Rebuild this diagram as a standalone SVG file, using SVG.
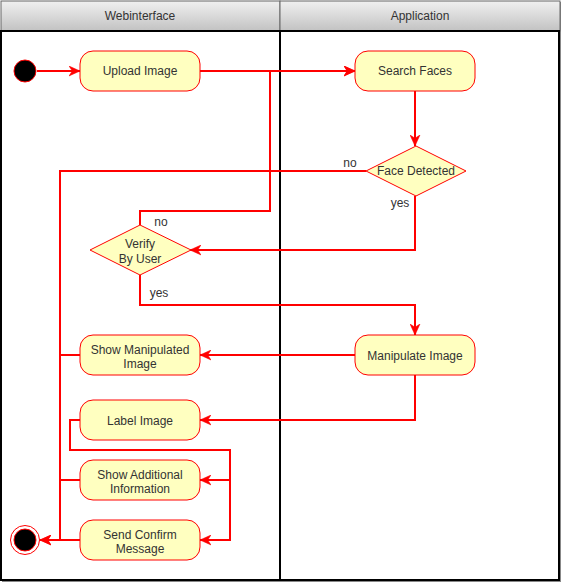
<svg xmlns="http://www.w3.org/2000/svg" width="562" height="583" viewBox="0 0 562 583">
<style>
text{font-family:"Liberation Sans",Arial,sans-serif;font-size:12px;fill:#333;}
.c{text-anchor:middle;}
.node{fill:#FFFFC0;stroke:#FF0000;stroke-width:1;}
.e{fill:none;stroke:#FF0000;stroke-width:2;}
.hdr{fill:url(#hg);stroke:#666;stroke-width:1;}
.lane{fill:#fff;stroke:#000;stroke-width:2;}
</style>
<defs>
<linearGradient id="hg" x1="0" y1="0" x2="0" y2="1">
<stop offset="0" stop-color="#F0F0F0"/>
<stop offset="1" stop-color="#C2C2C2"/>
</linearGradient>
<marker id="arr" markerUnits="userSpaceOnUse" viewBox="0 0 10 10" markerWidth="11" markerHeight="11" refX="10" refY="5" orient="auto">
<path d="M0,0.5 L10,5 L0,9.5 L3,5 Z" fill="#FF0000" stroke="#FF0000" stroke-width="0.5"/>
</marker>
</defs>
<g id="pool">
<rect x="2" y="2" width="559" height="580" fill="#888"/>
<rect class="hdr" x="1" y="1" width="279" height="30"/>
<rect class="hdr" x="280" y="1" width="280" height="30"/>
<rect class="lane" x="1" y="31" width="279" height="549"/>
<rect class="lane" x="280" y="31" width="279" height="549"/>
<text class="c" x="140" y="20">Webinterface</text>
<text class="c" x="420" y="20">Application</text>
</g>
<g id="connectors">
<path class="e" d="M37,71 L80,71" marker-end="url(#arr)"/>
<path class="e" d="M200,71 L355,71" marker-end="url(#arr)"/>
<path class="e" d="M140,225 L140,211 L270,211 L270,71 L355,71" marker-end="url(#arr)"/>
<path class="e" d="M415,90 L415,146" marker-end="url(#arr)"/>
<path class="e" d="M366,171 L60,171 L60,540 L40,540" marker-end="url(#arr)"/>
<path class="e" d="M415,196 L415,250 L190,250" marker-end="url(#arr)"/>
<path class="e" d="M140,275 L140,305 L415,305 L415,335" marker-end="url(#arr)"/>
<path class="e" d="M355,355 L200,355" marker-end="url(#arr)"/>
<path class="e" d="M415,375 L415,420 L200,420" marker-end="url(#arr)"/>
<path class="e" d="M80,355 L60,355 L60,540 L40,540"/>
<path class="e" d="M80,420 L70,420 L70,450 L230,450 L230,480 L200,480" marker-end="url(#arr)"/>
<path class="e" d="M80,420 L70,420 L70,450 L230,450 L230,540 L200,540" marker-end="url(#arr)"/>
<path class="e" d="M80,480 L60,480 L60,540 L40,540"/>
<path class="e" d="M80,540 L40,540" marker-end="url(#arr)"/>
<text class="c" x="350" y="167">no</text>
<text class="c" x="400" y="207">yes</text>
<text class="c" x="161" y="226">no</text>
<text class="c" x="159" y="297">yes</text>
</g>
<g id="start">
<circle cx="25" cy="71" r="11" fill="#000" stroke="#FF0000" stroke-width="1"/>
</g>
<g id="upload">
<rect class="node" x="80" y="51" width="120" height="40" rx="13"/>
<text class="c" x="140" y="75">Upload Image</text>
</g>
<g id="search">
<rect class="node" x="355" y="51" width="120" height="40" rx="13"/>
<text class="c" x="415" y="75">Search Faces</text>
</g>
<g id="faceDetected">
<path class="node" d="M416,146 L466,171 L416,196 L366,171 Z"/>
<text class="c" x="416" y="175">Face Detected</text>
</g>
<g id="verify">
<path class="node" d="M140,225 L191,250 L140,275 L90,250 Z"/>
<text class="c" x="140" y="248">Verify</text>
<text class="c" x="140" y="263">By User</text>
</g>
<g id="manipulate">
<rect class="node" x="355" y="335" width="120" height="40" rx="13"/>
<text class="c" x="415" y="360">Manipulate Image</text>
</g>
<g id="showManipulated">
<rect class="node" x="80" y="335" width="120" height="40" rx="13"/>
<text class="c" x="140" y="354">Show Manipulated</text>
<text class="c" x="140" y="368">Image</text>
</g>
<g id="labelImage">
<rect class="node" x="80" y="400" width="120" height="40" rx="13"/>
<text class="c" x="140" y="425">Label Image</text>
</g>
<g id="showAdditional">
<rect class="node" x="80" y="460" width="120" height="40" rx="13"/>
<text class="c" x="140" y="479">Show Additional</text>
<text class="c" x="140" y="493">Information</text>
</g>
<g id="sendConfirm">
<rect class="node" x="80" y="520" width="120" height="40" rx="13"/>
<text class="c" x="140" y="539">Send Confirm</text>
<text class="c" x="140" y="553">Message</text>
</g>
<g id="end">
<circle cx="25" cy="540" r="14.5" fill="#fff" stroke="#FF0000" stroke-width="1"/>
<circle cx="25" cy="540" r="11" fill="#000" stroke="#FF0000" stroke-width="1"/>
</g>
</svg>
